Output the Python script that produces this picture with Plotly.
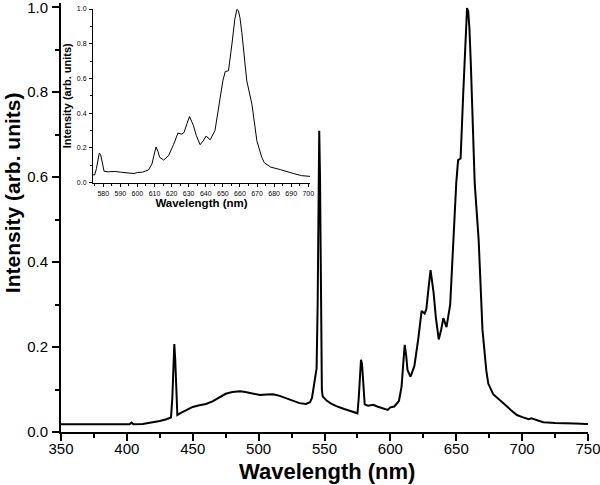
import plotly.graph_objects as go

# emission spectrum (nm, normalised intensity)
WAVELENGTH = [
    350, 370, 390, 402, 403.6, 405, 412, 420, 425, 430, 433.5, 434.5, 435.5, 436,
    436.7, 437.5, 438.3, 441, 445, 450, 455, 460, 465, 470, 475, 480, 486, 490,
    494, 501, 506, 511, 516, 521, 526, 531, 536, 539, 540.5, 542, 543, 544, 544.8,
    545.5, 546, 546.6, 547.2, 548, 548.6, 551.6, 555, 559, 565, 570, 575, 576, 577,
    577.7, 578.5, 579.5, 580.5, 583, 587, 590, 593, 595, 598, 600, 603, 606.5,
    608.5, 610, 610.9, 612, 613, 615.3, 618.2, 621.2, 623.7, 626, 627.3, 629,
    630.5, 632.8, 634.5, 636.7, 638.5, 640.2, 642.6, 645.4, 647.4, 650, 651.4,
    653.3, 655.3, 657, 658.2, 659.1, 660, 661.1, 664, 667, 669.9, 672.8, 674.3,
    678, 683.6, 686, 691.4, 696, 700.2, 703, 705, 707, 709, 716, 725, 734, 740,
    749, 750,
]
INTENSITY = [
    0.018, 0.018, 0.018, 0.018, 0.022, 0.018, 0.019, 0.023, 0.026, 0.030, 0.034,
    0.080, 0.190, 0.207, 0.170, 0.080, 0.040, 0.045, 0.052, 0.059, 0.063, 0.066,
    0.072, 0.082, 0.090, 0.094, 0.096, 0.094, 0.091, 0.087, 0.088, 0.089, 0.085,
    0.079, 0.073, 0.068, 0.066, 0.070, 0.080, 0.110, 0.135, 0.150, 0.300, 0.650,
    0.709, 0.600, 0.250, 0.100, 0.084, 0.074, 0.067, 0.061, 0.054, 0.049, 0.044,
    0.080, 0.150, 0.170, 0.160, 0.100, 0.065, 0.062, 0.064, 0.060, 0.057, 0.055,
    0.052, 0.058, 0.060, 0.073, 0.107, 0.170, 0.205, 0.180, 0.146, 0.130, 0.155,
    0.220, 0.285, 0.279, 0.289, 0.340, 0.381, 0.328, 0.270, 0.218, 0.240, 0.268,
    0.247, 0.300, 0.433, 0.586, 0.640, 0.644, 0.797, 0.940, 0.998, 0.990, 0.950,
    0.864, 0.586, 0.452, 0.241, 0.145, 0.114, 0.089, 0.075, 0.067, 0.052, 0.040,
    0.035, 0.031, 0.030, 0.032, 0.030, 0.023, 0.021, 0.021, 0.020, 0.019, 0.019,
]

MAIN_XTICKS = [350, 400, 450, 500, 550, 600, 650, 700, 750]
MAIN_YTICKS = [0.0, 0.2, 0.4, 0.6, 0.8, 1.0]
INSET_XTICKS = list(range(580, 701, 10))

FONT = "Liberation Sans, Arial, sans-serif"

fig = go.Figure()
fig.add_trace(go.Scatter(
    x=WAVELENGTH, y=INTENSITY, mode="lines",
    line=dict(color="black", width=2), xaxis="x", yaxis="y",
))
fig.add_trace(go.Scatter(
    x=WAVELENGTH, y=INTENSITY, mode="lines",
    line=dict(color="black", width=1), xaxis="x2", yaxis="y2",
))

main_axis = dict(
    showline=True, linecolor="black", linewidth=2, mirror=False,
    ticks="outside", ticklen=7, tickwidth=2, tickcolor="black",
    showgrid=False, zeroline=False, automargin=False,
    ticklabeloverflow="allow",
    tickfont=dict(family=FONT, size=15, color="black"),
    minor=dict(ticks="outside", ticklen=4, tickwidth=2, tickcolor="black"),
)
inset_axis = dict(
    showline=True, linecolor="black", linewidth=1, mirror=False,
    ticks="outside", ticklen=3, tickwidth=1, tickcolor="black",
    showgrid=False, zeroline=False, automargin=False,
    ticklabeloverflow="allow", ticklabelstandoff=1,
    tickfont=dict(family=FONT, size=7, color="black"),
    minor=dict(ticks="outside", ticklen=2, tickwidth=1, tickcolor="black"),
)

fig.update_layout(
    width=600, height=485,
    paper_bgcolor="white", plot_bgcolor="white",
    showlegend=False,
    margin=dict(l=61, r=12, t=3, b=53, autoexpand=False),
    xaxis=dict(
        **main_axis, range=[350, 750], tickvals=MAIN_XTICKS,
        minor_dtick=25, ticklabelstandoff=-5,
    ),
    yaxis=dict(
        **main_axis, range=[0, 1.01], tickvals=MAIN_YTICKS, tickformat=".1f",
        minor_dtick=0.1, ticklabelstandoff=1,
    ),
    xaxis2=dict(
        **inset_axis, range=[574, 701], tickvals=INSET_XTICKS,
        minor_dtick=5, domain=[0.0607, 0.4725], anchor="y2",
        title=dict(text="<b>Wavelength (nm)</b>", standoff=1,
                   font=dict(family=FONT, size=11.5, color="black")),
    ),
    yaxis2=dict(
        **inset_axis, range=[0, 1.0], tickvals=MAIN_YTICKS, tickformat=".1f",
        minor_dtick=0.1, domain=[0.5814, 0.986], anchor="x2",
        title=dict(text="<b>Intensity (arb. units)</b>", standoff=2,
                   font=dict(family=FONT, size=11, color="black")),
    ),
)

# main axis titles placed as annotations so they sit where the reference has them
fig.add_annotation(
    text="<b>Wavelength (nm)</b>", xref="paper", yref="paper",
    x=0.505, y=-0.091, xanchor="center", yanchor="middle", showarrow=False,
    font=dict(family=FONT, size=22, color="black"),
)
fig.add_annotation(
    text="<b>Intensity (arb. units)</b>", xref="paper", yref="paper",
    x=-0.093, y=0.559, xanchor="center", yanchor="middle", showarrow=False,
    textangle=-90, font=dict(family=FONT, size=21, color="black"),
)

# the page's default 8px body margin would push the figure off-canvas
fig.write_html("out.html", config={"displayModeBar": False},
               post_script="document.body.style.margin = '0';")
